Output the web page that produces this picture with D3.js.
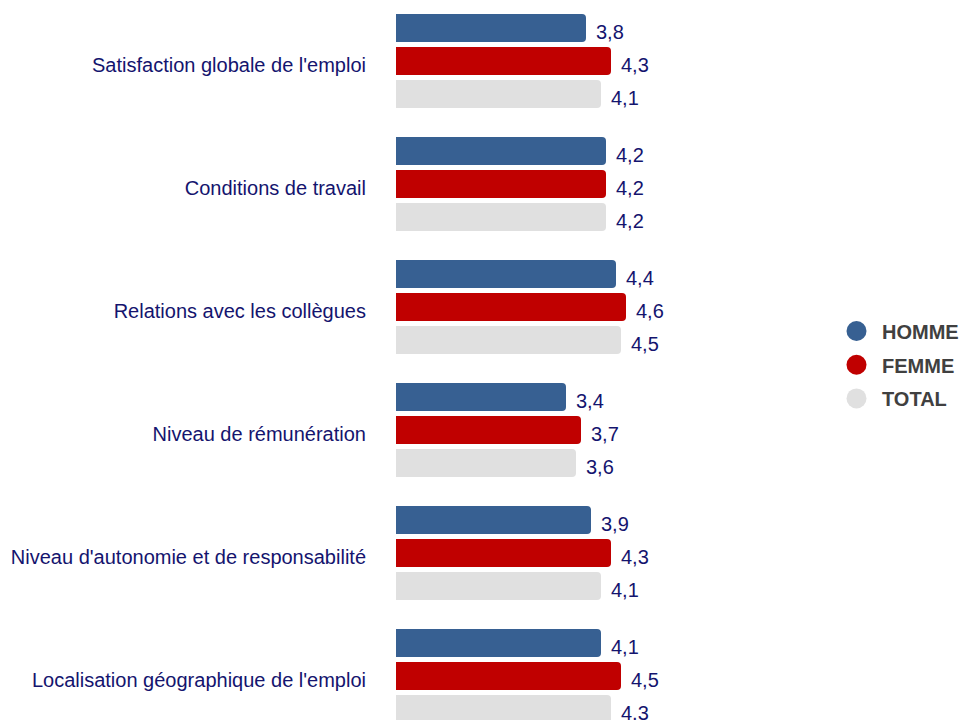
<!DOCTYPE html>
<html>
<head>
<meta charset="utf-8">
<script src="https://cdn.jsdelivr.net/npm/d3@7"></script>
<style>
  body { margin: 0; background: #fff; }
  text { font-family: "Liberation Sans", Arial, sans-serif; }
</style>
</head>
<body>
<div id="chart"></div>
<script>
// Data
const categories = [
    "Satisfaction globale de l'emploi",
    "Conditions de travail",
    "Relations avec les collègues",
    "Niveau de rémunération",
    "Niveau d'autonomie et de responsabilité",
    "Localisation géographique de l'emploi"
];
const series = ["HOMME", "FEMME", "TOTAL"];
const homme = [3.8, 4.2, 4.4, 3.4, 3.9, 4.1];
const femme = [4.3, 4.2, 4.6, 3.7, 4.3, 4.5];
const total = [4.1, 4.2, 4.5, 3.6, 4.1, 4.3];
const colors = ["#376092", "#c00000", "#e0e0e0"];

const width = 961, height = 720;
const values = [homme, femme, total];
const rows = categories.map((c, i) => ({
    category: c,
    vals: series.map((s, j) => ({ key: s, value: values[j][i] }))
}));

const svg = d3.select('#chart').append('svg')
    .attr('width', width)
    .attr('height', height);

// Scales
const x = d3.scaleLinear().domain([0, 5]).range([396, 646]);
const y0 = d3.scaleBand().domain(categories).range([-0.5, 737.5])
    .paddingInner(0.236).paddingOuter(0.118);
const y1 = d3.scaleBand().domain(series).range([0, y0.bandwidth()])
    .paddingInner(0.1515).paddingOuter(0);
const color = d3.scaleOrdinal().domain(series).range(colors);

const fmt = v => d3.format('.1f')(v).replace('.', ',');

const groups = svg.append('g').selectAll('g')
    .data(rows)
    .join('g')
    .attr('transform', d => `translate(0,${y0(d.category)})`);

// Bars: rounded right end, flat left edge
groups.selectAll('path')
    .data(d => d.vals)
    .join('path')
    .attr('fill', d => color(d.key))
    .attr('d', d => {
        const x0 = x(0), x1 = x(d.value), t = y1(d.key), h = y1.bandwidth(), r = 4;
        return `M${x0},${t}H${x1 - r}Q${x1},${t} ${x1},${t + r}V${t + h - r}Q${x1},${t + h} ${x1 - r},${t + h}H${x0}Z`;
    });

// Value labels
groups.selectAll('text.val')
    .data(d => d.vals)
    .join('text')
    .attr('class', 'val')
    .attr('x', d => x(d.value) + 10)
    .attr('y', d => y1(d.key) + y1.bandwidth() / 2 + 11)
    .attr('fill', '#14146e')
    .style('font-size', '20px')
    .text(d => fmt(d.value));

// Category labels
groups.append('text')
    .attr('x', 366)
    .attr('y', y0.bandwidth() / 2 + 11.5)
    .attr('text-anchor', 'end')
    .attr('fill', '#14146e')
    .style('font-size', '20px')
    .text(d => d.category);

// Legend
const legend = svg.append('g')
    .selectAll('g')
    .data(series)
    .join('g')
    .attr('transform', (d, i) => `translate(856.5,${331 + i * 33.7})`);

legend.append('circle')
    .attr('r', 10)
    .attr('fill', d => color(d));

legend.append('text')
    .attr('x', 25.5)
    .attr('y', 8)
    .attr('fill', '#404040')
    .style('font-size', '20px')
    .style('font-weight', 'bold')
    .text(d => d);
</script>
</body>
</html>
